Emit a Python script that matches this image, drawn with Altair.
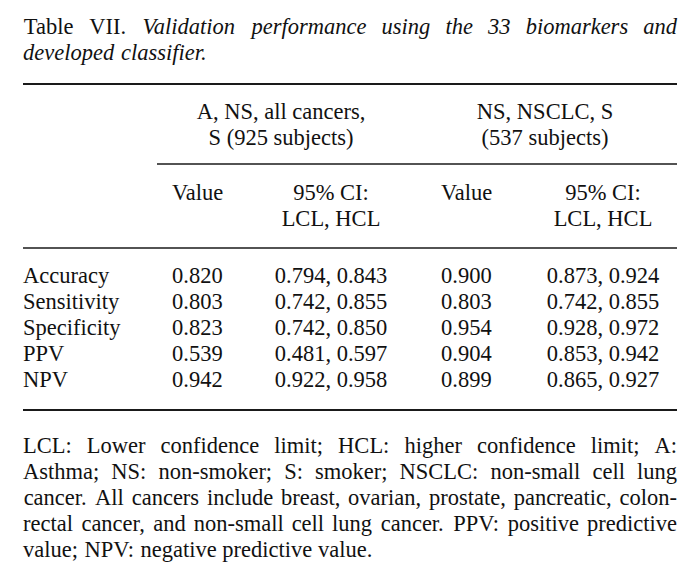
import altair as alt
import pandas as pd

# ---------------- data ----------------
TABLE_LABEL = ["Table", "VII."]
TITLE_LINE_1 = "Validation performance using the 33 biomarkers and"
TITLE_LINE_2 = "developed classifier."
GROUP_HEADERS = [["A, NS, all cancers,", "S (925 subjects)"],
                 ["NS, NSCLC, S", "(537 subjects)"]]
VALUE_HEADER = "Value"
CI_HEADER = ["95% CI:", "LCL, HCL"]
METRICS = ["Accuracy", "Sensitivity", "Specificity", "PPV", "NPV"]
VALUE_ALL = ["0.820", "0.803", "0.823", "0.539", "0.942"]
CI_ALL = ["0.794, 0.843", "0.742, 0.855", "0.742, 0.850", "0.481, 0.597", "0.922, 0.958"]
VALUE_NSCLC = ["0.900", "0.803", "0.954", "0.904", "0.899"]
CI_NSCLC = ["0.873, 0.924", "0.742, 0.855", "0.928, 0.972", "0.853, 0.942", "0.865, 0.927"]
FOOTNOTE_LINES = [
    "LCL: Lower confidence limit; HCL: higher confidence limit; A:",
    "Asthma; NS: non-smoker; S: smoker; NSCLC: non-small cell lung",
    "cancer. All cancers include breast, ovarian, prostate, pancreatic, colon-",
    "rectal cancer, and non-small cell lung cancer. PPV: positive predictive",
    "value; NPV: negative predictive value.",
]

# ---------------- layout / style ----------------
FONT = "Liberation Serif"
FS = 22.5
INK = "#111111"
W, H = 674, 568
LEFT, RIGHT = 23, 677
LINE = 26
TITLE_Y = 27
TOP_RULE_Y = 84
GROUP_Y = 112
MID_RULE_Y = 164
MID_RULE_X = 157
SUB_Y = 193
HEAD_RULE_Y = 248
ROW_Y = 276
BOTTOM_RULE_Y = 410
FOOT_Y = 446
GROUP_CX = [281, 545]
VALUE_LX = [172, 441]
CI_CX = [331, 603]

# Times metrics (1/1000 em), used only to justify paragraph lines
ROMAN = {" ": 250, ",": 250, ".": 250, ":": 278, ";": 278, "-": 333, "(": 333, ")": 333, "%": 833}
ROMAN.update({d: 500 for d in "0123456789"})
ROMAN.update(dict(zip("ABCDEFGHIJKLMNOPQRSTUVWXYZ",
                      [722, 667, 667, 722, 611, 556, 722, 722, 333, 389, 722, 611, 889,
                       722, 722, 556, 722, 667, 556, 611, 722, 722, 944, 722, 722, 611])))
ROMAN.update(dict(zip("abcdefghijklmnopqrstuvwxyz",
                      [444, 500, 444, 500, 444, 333, 500, 500, 278, 278, 500, 278, 778,
                       500, 500, 500, 500, 333, 389, 278, 500, 500, 722, 500, 500, 444])))
ITALIC = {" ": 250, ",": 250, ".": 250, ":": 333, ";": 333, "-": 333}
ITALIC.update({d: 500 for d in "0123456789"})
ITALIC.update(dict(zip("ABCDEFGHIJKLMNOPQRSTUVWXYZ",
                       [611, 611, 667, 722, 611, 611, 722, 722, 333, 444, 667, 556, 833,
                        667, 722, 611, 722, 611, 500, 556, 722, 611, 833, 611, 556, 556])))
ITALIC.update(dict(zip("abcdefghijklmnopqrstuvwxyz",
                       [500, 500, 444, 500, 444, 278, 500, 500, 278, 278, 444, 278, 722,
                        500, 500, 500, 500, 389, 389, 278, 500, 444, 667, 444, 444, 389])))


def width(s, italic):
    t = ITALIC if italic else ROMAN
    return sum(t.get(c, 500) for c in s) * FS / 1000.0


def place_words(tokens, y, justify):
    widths = [width(w, it) for w, it in tokens]
    n = len(tokens)
    if justify and n > 1:
        gap = (RIGHT - LEFT - sum(widths)) / (n - 1)
    else:
        gap = 250 * FS / 1000.0
    out, x = [], LEFT
    for (w, it), wd in zip(tokens, widths):
        out.append({"text": w, "italic": it, "x": x + wd / 2, "y": y})
        x += wd + gap
    return out


words = []
t1 = [(w, False) for w in TABLE_LABEL] + [(w, True) for w in TITLE_LINE_1.split()]
words += place_words(t1, TITLE_Y, True)
words += place_words([(w, True) for w in TITLE_LINE_2.split()], TITLE_Y + LINE, False)
for i, line in enumerate(FOOTNOTE_LINES):
    words += place_words([(w, False) for w in line.split()], FOOT_Y + i * LINE,
                         i < len(FOOTNOTE_LINES) - 1)
words_df = pd.DataFrame(words)

# table cells
left_cells, center_cells = [], []
for g, lines in enumerate(GROUP_HEADERS):
    for k, s in enumerate(lines):
        center_cells.append({"text": s, "x": GROUP_CX[g], "y": GROUP_Y + k * LINE})
    left_cells.append({"text": VALUE_HEADER, "x": VALUE_LX[g], "y": SUB_Y})
    for k, s in enumerate(CI_HEADER):
        center_cells.append({"text": s, "x": CI_CX[g], "y": SUB_Y + k * LINE})
for r, m in enumerate(METRICS):
    y = ROW_Y + r * LINE
    left_cells.append({"text": m, "x": LEFT, "y": y})
    left_cells.append({"text": VALUE_ALL[r], "x": VALUE_LX[0], "y": y})
    left_cells.append({"text": VALUE_NSCLC[r], "x": VALUE_LX[1], "y": y})
    center_cells.append({"text": CI_ALL[r], "x": CI_CX[0], "y": y})
    center_cells.append({"text": CI_NSCLC[r], "x": CI_CX[1], "y": y})
left_df = pd.DataFrame(left_cells)
center_df = pd.DataFrame(center_cells)

rules_df = pd.DataFrame([
    {"x": LEFT, "x2": RIGHT, "y": TOP_RULE_Y, "w": 1.8},
    {"x": MID_RULE_X, "x2": RIGHT, "y": MID_RULE_Y, "w": 1.3},
    {"x": LEFT, "x2": RIGHT, "y": HEAD_RULE_Y, "w": 1.6},
    {"x": LEFT, "x2": RIGHT, "y": BOTTOM_RULE_Y, "w": 1.8},
])

xs = alt.Scale(domain=[8, 8 + W], range=[0, W], nice=False, zero=False)
ys = alt.Scale(domain=[8, 8 + H], range=[0, H], nice=False, zero=False)
X = alt.X("x:Q", scale=xs, axis=None)
Y = alt.Y("y:Q", scale=ys, axis=None)

text_kw = dict(font=FONT, fontSize=FS, color=INK, baseline="middle")

rules = alt.Chart(rules_df).mark_rule(color="#1a1a1a").encode(
    x=X, x2="x2:Q", y=Y, strokeWidth=alt.StrokeWidth("w:Q", scale=None, legend=None))

roman_words = alt.Chart(words_df).transform_filter("!datum.italic").mark_text(
    align="center", **text_kw).encode(x=X, y=Y, text="text:N")
italic_words = alt.Chart(words_df).transform_filter("datum.italic").mark_text(
    align="center", fontStyle="italic", **text_kw).encode(x=X, y=Y, text="text:N")
left_text = alt.Chart(left_df).mark_text(align="left", **text_kw).encode(
    x=X, y=Y, text="text:N")
center_text = alt.Chart(center_df).mark_text(align="center", **text_kw).encode(
    x=X, y=Y, text="text:N")

chart = alt.layer(rules, roman_words, italic_words, left_text, center_text).properties(
    width=W, height=H, padding=0, autosize="none", background="white"
).configure_view(stroke=None)

chart.save("out.html", embed_options={"renderer": "svg", "actions": False})
